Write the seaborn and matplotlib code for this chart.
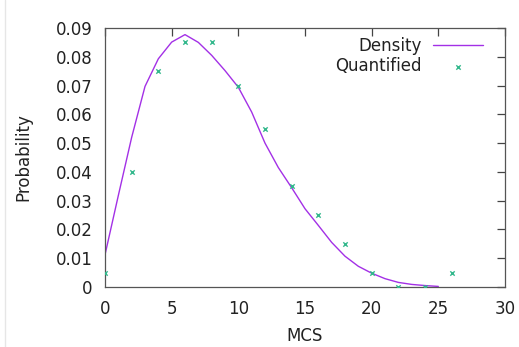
import matplotlib
matplotlib.use("Agg")
import matplotlib.pyplot as plt
from matplotlib.lines import Line2D
import pandas as pd
import seaborn as sns

# Density curve (evaluated at integer MCS values)
density_x = list(range(0, 26))
density_y = [0.0112, 0.0318, 0.0520, 0.0697, 0.0793, 0.0851, 0.0877, 0.0850,
             0.0805, 0.0752, 0.0694, 0.0608, 0.0500, 0.0415, 0.0345, 0.0272,
             0.0214, 0.0155, 0.0107, 0.0072, 0.0048, 0.0029, 0.0016, 0.0009,
             0.0005, 0.0002]

# Quantified points
quant_x = [0, 2, 4, 6, 8, 10, 12, 14, 16, 18, 20, 22, 24, 26]
quant_y = [0.005, 0.040, 0.075, 0.085, 0.085, 0.070, 0.055, 0.035,
           0.025, 0.015, 0.005, 0.0, 0.0, 0.005]

x_ticks = [0, 5, 10, 15, 20, 25, 30]
y_ticks = [0, 0.01, 0.02, 0.03, 0.04, 0.05, 0.06, 0.07, 0.08, 0.09]
y_tick_labels = ['0', '0.01', '0.02', '0.03', '0.04', '0.05', '0.06', '0.07', '0.08', '0.09']

df_line = pd.DataFrame({'MCS': density_x, 'p': density_y})
df_pts = pd.DataFrame({'MCS': quant_x, 'p': quant_y})

sns.set_theme(style='white')
plt.rcParams['font.family'] = ['DejaVu Sans']

fig = plt.figure(figsize=(5.19, 3.47), dpi=100)
ax = fig.add_axes([105 / 519, 60 / 347, 400 / 519, 259 / 347])

sns.lineplot(data=df_line, x='MCS', y='p', ax=ax, color='#a330e6',
             linewidth=1.0, label='Density')
sns.scatterplot(data=df_pts, x='MCS', y='p', ax=ax, color='#33b88c',
                marker='x', s=10, linewidth=1.0, label='Quantified', zorder=3)

ax.set_xlim(0, 30)
ax.set_ylim(0, 0.09)
ax.set_xticks(x_ticks)
ax.set_xticklabels([str(t) for t in x_ticks])
ax.set_yticks(y_ticks)
ax.set_yticklabels(y_tick_labels)

ax.set_xlabel('MCS', fontsize=12, labelpad=7, color='#222222')
ax.set_ylabel('Probability', fontsize=12, labelpad=17, color='#222222')

ax.tick_params(direction='in', length=6, width=0.9, color='#444444',
               top=True, right=True, labelsize=12, labelcolor='#222222')
ax.tick_params(axis='x', pad=9)
ax.tick_params(axis='y', pad=9)
for sp in ax.spines.values():
    sp.set_color('#555555')
    sp.set_linewidth(0.9)
    sp.set_visible(True)

leg = ax.legend(loc='upper right', bbox_to_anchor=(478 / 519 + 0.0, 1.0),
                bbox_transform=fig.transFigure, frameon=False, markerfirst=False,
                fontsize=12, handlelength=3.0, handletextpad=0.7,
                labelspacing=0.12, borderaxespad=0.0, borderpad=0.0)
leg.set_bbox_to_anchor((483 / 519, 1 - 37 / 347), transform=fig.transFigure)
for t in leg.get_texts():
    t.set_color('#222222')

# faint border line at the left of the image
fig.add_artist(Line2D([5 / 519, 5 / 519], [0, 1], color='#e6e6e6',
                      linewidth=1, transform=fig.transFigure))

fig.savefig('out.png', dpi=100)
